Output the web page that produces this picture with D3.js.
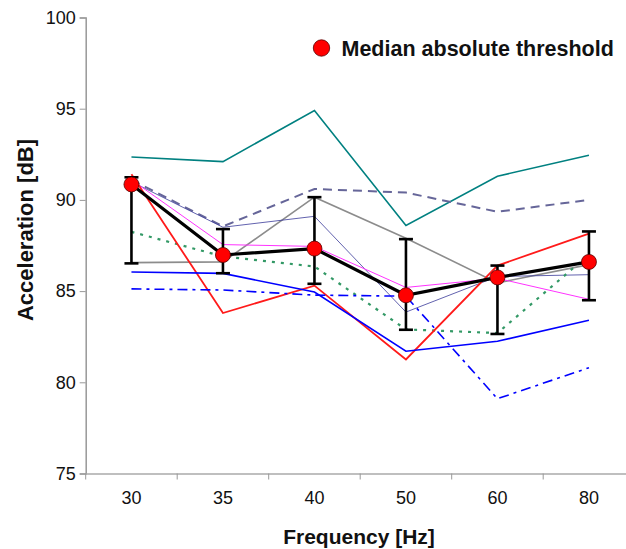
<!DOCTYPE html>
<html><head><meta charset="utf-8">
<script src="https://cdn.jsdelivr.net/npm/d3@7"></script>
<style>body{margin:0;background:#fff}svg{display:block}text{font-family:"Liberation Sans",Arial,sans-serif}</style>
</head><body>
<script>
const freqs = ["30","35","40","50","60","80"];
const teal = [92.35, 92.1, 94.9, 88.6, 91.3, 92.45];
const slateDash = [91.1, 88.55, 90.6, 90.4, 89.35, 90.0];
const gray = [86.56, 86.6, 90.15, 87.9, 85.45, 86.45];
const navy = [91.0, 88.5, 89.1, 83.85, 85.8, 85.9];
const magenta = [91.1, 87.55, 87.45, 85.2, 85.7, 84.55];
const greenDot = [88.25, 86.9, 86.35, 82.9, 82.7, 87.0];
const red = [91.4, 83.8, 85.3, 81.25, 86.4, 88.15];
const blue = [86.05, 85.97, 84.95, 81.7, 82.25, 83.4];
const blueDashDot = [85.12, 85.06, 84.78, 84.72, 79.1, 80.8];
const median = [90.85, 86.98, 87.33, 84.77, 85.75, 86.6];
const errHigh = [91.24, 88.4, 90.15, 87.85, 86.4, 88.27];
const errLow = [86.52, 85.98, 85.4, 82.88, 82.65, 84.5];
const yTicks = [75, 80, 85, 90, 95, 100];

const W = 626, H = 549;
const svg = d3.select("body").append("svg").attr("width", W).attr("height", H);
const x = d3.scaleBand().domain(freqs).range([85.7, 634.7]).padding(0);
const y = d3.scaleLinear().domain([75, 100]).range([473.5, 17.5]);
const cx = d => x(d) + x.bandwidth() / 2;

// axes
const yAxis = svg.append("g").attr("transform", "translate(85.7,0)")
  .call(d3.axisLeft(y).tickValues(yTicks).tickSize(6).tickPadding(4));
yAxis.select(".domain").attr("stroke", "#999").attr("stroke-width", 1.5);
yAxis.selectAll(".tick line").attr("stroke", "#999");
yAxis.selectAll(".tick text").attr("font-size", 18).attr("fill", "#111").attr("font-family", "Liberation Sans, Arial, sans-serif");

const xAxis = svg.append("g").attr("transform", "translate(0,473.5)")
  .call(d3.axisBottom(x).tickSize(0).tickPadding(18));
xAxis.select(".domain").attr("stroke", "#aaa").attr("stroke-width", 1.5);
xAxis.selectAll(".tick text").attr("font-size", 18).attr("fill", "#111").attr("font-family", "Liberation Sans, Arial, sans-serif");
xAxis.selectAll(".bnd").data(freqs).enter().append("line")
  .attr("x1", d => x(d)).attr("x2", d => x(d)).attr("y1", 0).attr("y2", 6)
  .attr("stroke", "#999");

// series lines
const series = [
  {v: teal, c: "#008080", w: 1.6, dash: null},
  {v: slateDash, c: "#666699", w: 2, dash: "9,6"},
  {v: gray, c: "#8c8c8c", w: 1.6, dash: null},
  {v: navy, c: "#3a3a99", w: 0.8, dash: null},
  {v: magenta, c: "#ff33ff", w: 1, dash: null},
  {v: greenDot, c: "#339966", w: 2.2, dash: "3,6"},
  {v: red, c: "#ff1a1a", w: 1.8, dash: null},
  {v: blue, c: "#0000ff", w: 1.6, dash: null},
  {v: blueDashDot, c: "#0000ff", w: 1.6, dash: "10,5,3,5"}
];
const line = d3.line().x((d, i) => cx(freqs[i])).y(d => y(d));
svg.append("g").selectAll("path").data(series).enter().append("path")
  .attr("d", s => line(s.v)).attr("fill", "none")
  .attr("stroke", s => s.c).attr("stroke-width", s => s.w)
  .attr("stroke-dasharray", s => s.dash);

// median line
svg.append("path").attr("d", line(median)).attr("fill", "none")
  .attr("stroke", "#000").attr("stroke-width", 3.2);

// error bars
const eb = svg.append("g").attr("stroke", "#000").attr("stroke-width", 2.6);
freqs.forEach((f, i) => {
  eb.append("line").attr("x1", cx(f)).attr("x2", cx(f)).attr("y1", y(errHigh[i])).attr("y2", y(errLow[i]));
  eb.append("line").attr("x1", cx(f) - 7).attr("x2", cx(f) + 7).attr("y1", y(errHigh[i])).attr("y2", y(errHigh[i]));
  eb.append("line").attr("x1", cx(f) - 7).attr("x2", cx(f) + 7).attr("y1", y(errLow[i])).attr("y2", y(errLow[i]));
});

// median points
svg.append("g").selectAll("circle").data(median).enter().append("circle")
  .attr("cx", (d, i) => cx(freqs[i])).attr("cy", d => y(d)).attr("r", 7.5)
  .attr("fill", "#ff0000").attr("stroke", "#550000").attr("stroke-width", 0.8);

// legend
svg.append("circle").attr("cx", 321.5).attr("cy", 48).attr("r", 8.2)
  .attr("fill", "#ff0000").attr("stroke", "#550000").attr("stroke-width", 0.8);
svg.append("text").attr("x", 341.5).attr("y", 55.5).attr("font-size", 21.5).attr("font-weight", "bold")
  .attr("fill", "#111").text("Median absolute threshold");

// axis titles
svg.append("text").attr("transform", "translate(33,230) rotate(-90)").attr("text-anchor", "middle")
  .attr("font-size", 22).attr("font-weight", "bold").attr("fill", "#111").text("Acceleration [dB]");
svg.append("text").attr("x", 359).attr("y", 544).attr("text-anchor", "middle")
  .attr("font-size", 21).attr("font-weight", "bold").attr("fill", "#111").text("Frequency [Hz]");
</script>
</body></html>
